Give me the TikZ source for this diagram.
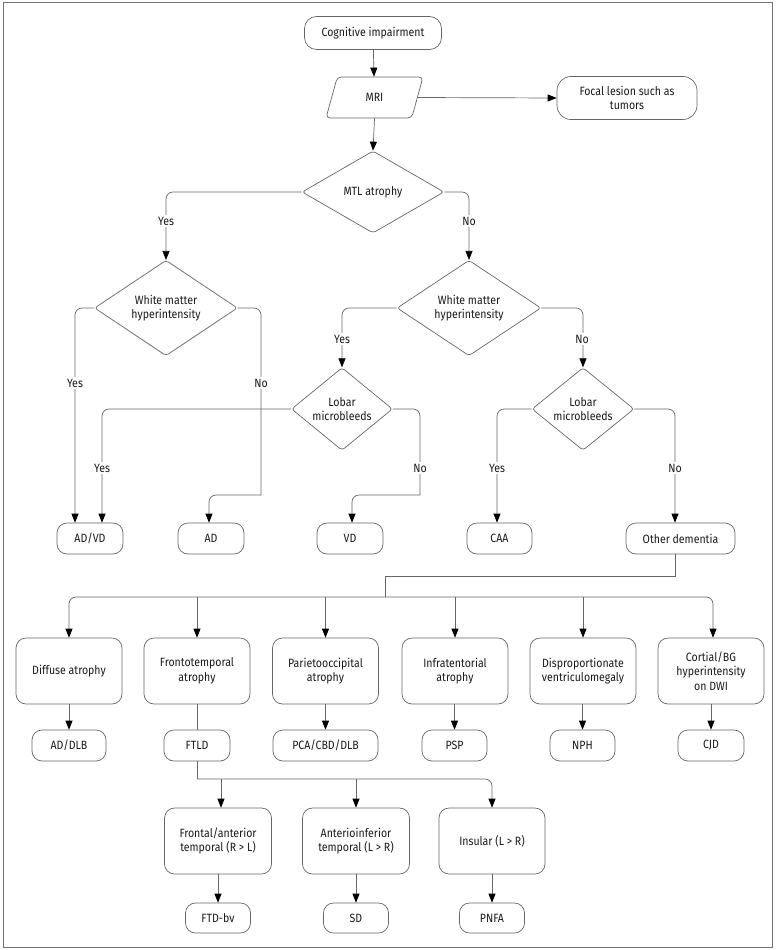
\documentclass[tikz,border=0pt]{standalone}
\usepackage{fontspec}
\setmainfont[FakeStretch=0.88]{Fira Sans}
\usetikzlibrary{shapes.geometric,arrows.meta,calc}
\begin{document}
\begin{tikzpicture}[x=1pt,y=-1pt,
  font=\fontsize{12}{14.5}\selectfont,
  every node/.style={text=black!90},
  box/.style={draw=black!60,line width=0.7pt,rounded corners=10pt,align=center,inner sep=2pt},
  bigbox/.style={box,minimum width=106pt,minimum height=66pt},
  smallbox/.style={box,minimum width=65pt,minimum height=31pt},
  dia/.style={draw=black!60,line width=0.7pt,diamond,rounded corners=3pt,align=center,inner sep=0pt},
  conn/.style={draw=black!60,line width=0.7pt,rounded corners=7pt},
  arr/.style={conn,-{Triangle[length=9pt,width=7pt,color=black]}},
  lab/.style={fill=white,inner sep=2pt}
]
\useasboundingbox (0,0) rectangle (779,950);
\draw[black!55,line width=0.8pt] (3,2) rectangle (772,947);

% top
\node[box,minimum width=137pt,minimum height=33pt,rounded corners=12pt] (cog) at (373,33) {Cognitive impairment};
\node[draw=black!60,line width=0.7pt,trapezium,trapezium left angle=72,trapezium right angle=108,trapezium stretches=true,rounded corners=4pt,minimum width=97pt,minimum height=41pt,inner sep=0pt] (mri) at (374.5,97.5) {MRI};
\node[box,minimum width=140pt,minimum height=43pt,rounded corners=14pt] (focal) at (627,98) {Focal lesion such as\\tumors};
\node[dia,minimum width=142pt,minimum height=82pt] (mtl) at (373,192) {MTL atrophy};

\node[dia,minimum width=143pt,minimum height=80pt] (wmhL) at (166,308) {White matter\\hyperintensity};
\node[dia,minimum width=144pt,minimum height=80pt] (wmhR) at (469,308) {White matter\\hyperintensity};
\node[dia,minimum width=101pt,minimum height=73pt] (lobL) at (342,409) {Lobar\\microbleeds};
\node[dia,minimum width=102pt,minimum height=73pt] (lobR) at (583,409) {Lobar\\microbleeds};

\node[smallbox,minimum width=66pt] (adv) at (90,538.5) {AD/VD};
\node[smallbox,minimum width=66pt] (ad) at (211,538.5) {AD};
\node[smallbox,minimum width=66pt] (vd) at (350,538.5) {VD};
\node[smallbox] (caa) at (499.5,538.5) {CAA};
\node[smallbox,minimum width=109pt] (oth) at (680.5,538.5) {Other dementia};

% row 2
\node[bigbox] (diff) at (69,671) {Diffuse atrophy};
\node[bigbox] (ft) at (197,671) {Frontotemporal\\atrophy};
\node[bigbox] (pa) at (325.5,671) {Parietooccipital\\atrophy};
\node[bigbox] (inf) at (455,671) {Infratentorial\\atrophy};
\node[bigbox] (dp) at (583,671) {Disproportionate\\ventriculomegaly};
\node[bigbox] (cort) at (711,671) {Cortial/BG\\hyperintensity\\on DWI};

% row 3
\node[smallbox,minimum width=74pt] (addlb) at (69,745.5) {AD/DLB};
\node[smallbox,minimum width=66pt] (ftld) at (197,745.5) {FTLD};
\node[smallbox,minimum width=105pt] (pca) at (325.5,745.5) {PCA/CBD/DLB};
\node[smallbox] (psp) at (454.5,745.5) {PSP};
\node[smallbox] (nph) at (582.5,745.5) {NPH};
\node[smallbox,minimum width=66pt] (cjd) at (711,745.5) {CJD};

% row 4
\node[bigbox,minimum width=107pt] (fa) at (218,841) {Frontal/anterior\\temporal (R > L)};
\node[bigbox,minimum width=107pt] (ai) at (356,841) {Anterioinferior\\temporal (L > R)};
\node[bigbox] (ins) at (492,841) {Insular (L > R)};

% row 5
\node[smallbox,minimum height=30pt] (ftdbv) at (218,918) {FTD-bv};
\node[smallbox,minimum height=30pt] (sd) at (356,918) {SD};
\node[smallbox,minimum height=30pt] (pnfa) at (492,918) {PNFA};

% helper coordinates
\coordinate (k1) at (261,495);
\coordinate (k2) at (420,495);
\coordinate (k3) at (385,576);
\coordinate (hub) at (385,597);
\coordinate (hub2) at (197,779);

% connectors
\draw[arr] (cog) -- (mri);
\draw[arr] (mri.east) -- (focal.west);
\draw[arr] (mri.south) -- (mtl.north);

\draw[arr] (mtl.west) -| (wmhL.north);
\draw[arr] (mtl.east) -| (wmhR.north);

\draw[arr] (wmhL.west) -| ([xshift=-15pt]adv.north);
\draw[conn] (wmhL.east) -| (k1);
\draw[arr] (k1) -| ([xshift=-2pt]ad.north);

\draw[arr] (wmhR.west) -| (lobL.north);
\draw[arr] (wmhR.east) -| (lobR.north);

\draw[arr] (lobL.west) -| ([xshift=12pt]adv.north);
\draw[conn] (lobL.east) -| (k2);
\draw[arr] (k2) -| ([xshift=2pt]vd.north);

\draw[arr] (lobR.west) -| ([xshift=-2.5pt]caa.north);
\draw[arr] (lobR.east) -| ([xshift=-5.5pt]oth.north);

\draw[conn,rounded corners=0pt] ([xshift=-5.5pt]oth.south) |- (k3) -- (hub);
\draw[arr] (hub) -| (diff.north);
\draw[arr] (hub) -| ([xshift=2pt]cort.north);
\draw[arr] (ft.north |- hub) -- (ft.north);
\draw[arr] (pa.north |- hub) -- (pa.north);
\draw[arr] (inf.north |- hub) -- (inf.north);
\draw[arr] (dp.north |- hub) -- (dp.north);

\draw[arr] (diff) -- (addlb);
\draw[conn] (ft) -- (ftld);
\draw[arr] (pa) -- (pca);
\draw[arr] ([xshift=-0.5pt]inf.south) -- (psp.north);
\draw[arr] ([xshift=-0.5pt]dp.south) -- (nph.north);
\draw[arr] (cort) -- (cjd);

\draw[conn,rounded corners=0pt] (ftld.south) -- (hub2);
\draw[arr] (hub2) -| (ins.north);
\draw[arr] ([xshift=3pt]fa.north |- hub2) -- ([xshift=3pt]fa.north);
\draw[arr] (ai.north |- hub2) -- (ai.north);

\draw[arr] (fa) -- (ftdbv);
\draw[arr] (ai) -- (sd);
\draw[arr] (ins) -- (pnfa);

% branch labels
\node[lab] (l1) at (166,221) {Yes};
\node[lab] (l2) at (469,221) {No};
\node[lab] (l3) at (75,383) {Yes};
\node[lab] (l4) at (261,383) {No};
\node[lab] (l5) at (342,339) {Yes};
\node[lab] (l6) at (582,339) {No};
\node[lab] (l7) at (102,468) {Yes};
\node[lab] (l8) at (420,468) {No};
\node[lab] (l9) at (497,468) {Yes};
\node[lab] (l10) at (675,468) {No};
\end{tikzpicture}
\end{document}
